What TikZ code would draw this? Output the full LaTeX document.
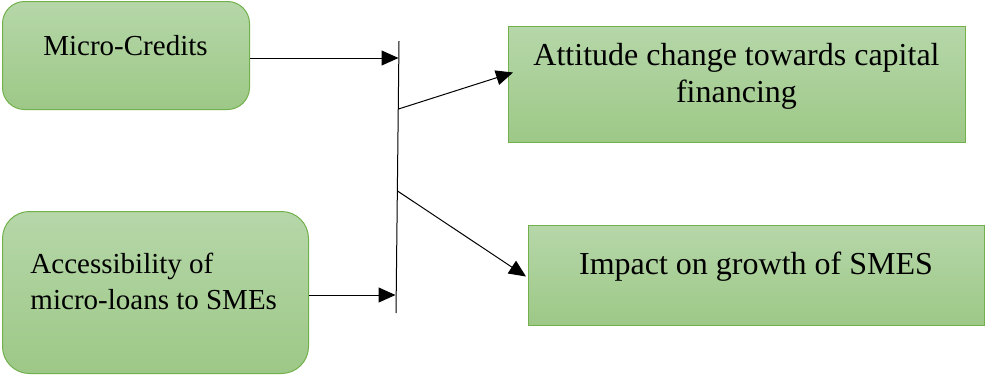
\documentclass[tikz,border=0pt]{standalone}
\usepackage{fontspec}
\setmainfont{Liberation Serif}
\usetikzlibrary{arrows.meta,positioning}

\definecolor{gtop}{HTML}{B6D7A9}
\definecolor{gbot}{HTML}{9DC887}
\definecolor{gline}{HTML}{72B04C}

\tikzset{
  greenbox/.style={draw=gline,line width=1pt,top color=gtop,bottom color=gbot,
    anchor=north west,inner sep=0pt},
  roundbox/.style={greenbox,rounded corners=22pt},
  small/.style={font=\fontsize{29}{36}\selectfont,inner sep=0pt},
  big/.style={font=\fontsize{32}{37}\selectfont,inner sep=0pt}
}

\begin{document}
\begin{tikzpicture}[x=1pt,y=-1pt,>={Triangle[length=17pt,width=15pt]},line width=1pt]

    \useasboundingbox (0,0) rectangle (985,376);

    % the four boxes
    \node[roundbox,minimum width=247pt,minimum height=108pt] (credit) at (2,1) {};
    \node[roundbox,rounded corners=27pt,minimum width=306pt,minimum height=162pt] (access) at (2,211) {};
    \node[greenbox,minimum width=457pt,minimum height=116pt] (attitude) at (508,26) {};
    \node[greenbox,minimum width=456pt,minimum height=100pt] (impact) at (528,225) {};

    \node[small,anchor=base] (creditT) at (125.5,55) {Micro-Credits};
    \node[small,anchor=west,align=left] (accessT) at (30,281) {Accessibility of\\micro-loans to SMEs};
    \node[big,align=center] (attitudeT) at (736.5,76) {Attitude change towards capital\\financing};
    \node[big,anchor=base] (impactT) at (756,274) {Impact on growth of SMES};

    % the bar in the middle
    \coordinate (bartop) at (399,41);
    \coordinate (barbot) at (396,313);
    \coordinate (in1) at (398.5,58);
    \coordinate (in2) at (395.5,295);
    \coordinate (j1) at (398.5,109);
    \coordinate (j2) at (397.5,191);

    \draw (bartop) -- (barbot);
    \draw[->] (credit.east |- in1) -- (in1);
    \draw[->] (access.east |- in2) -- (in2);
    \draw[->] (j1) -- ([xshift=5pt,yshift=12pt]attitude.west);
    \draw[->] (j2) -- ([xshift=-2pt,yshift=-1pt]impact.west);

\end{tikzpicture}
\end{document}
